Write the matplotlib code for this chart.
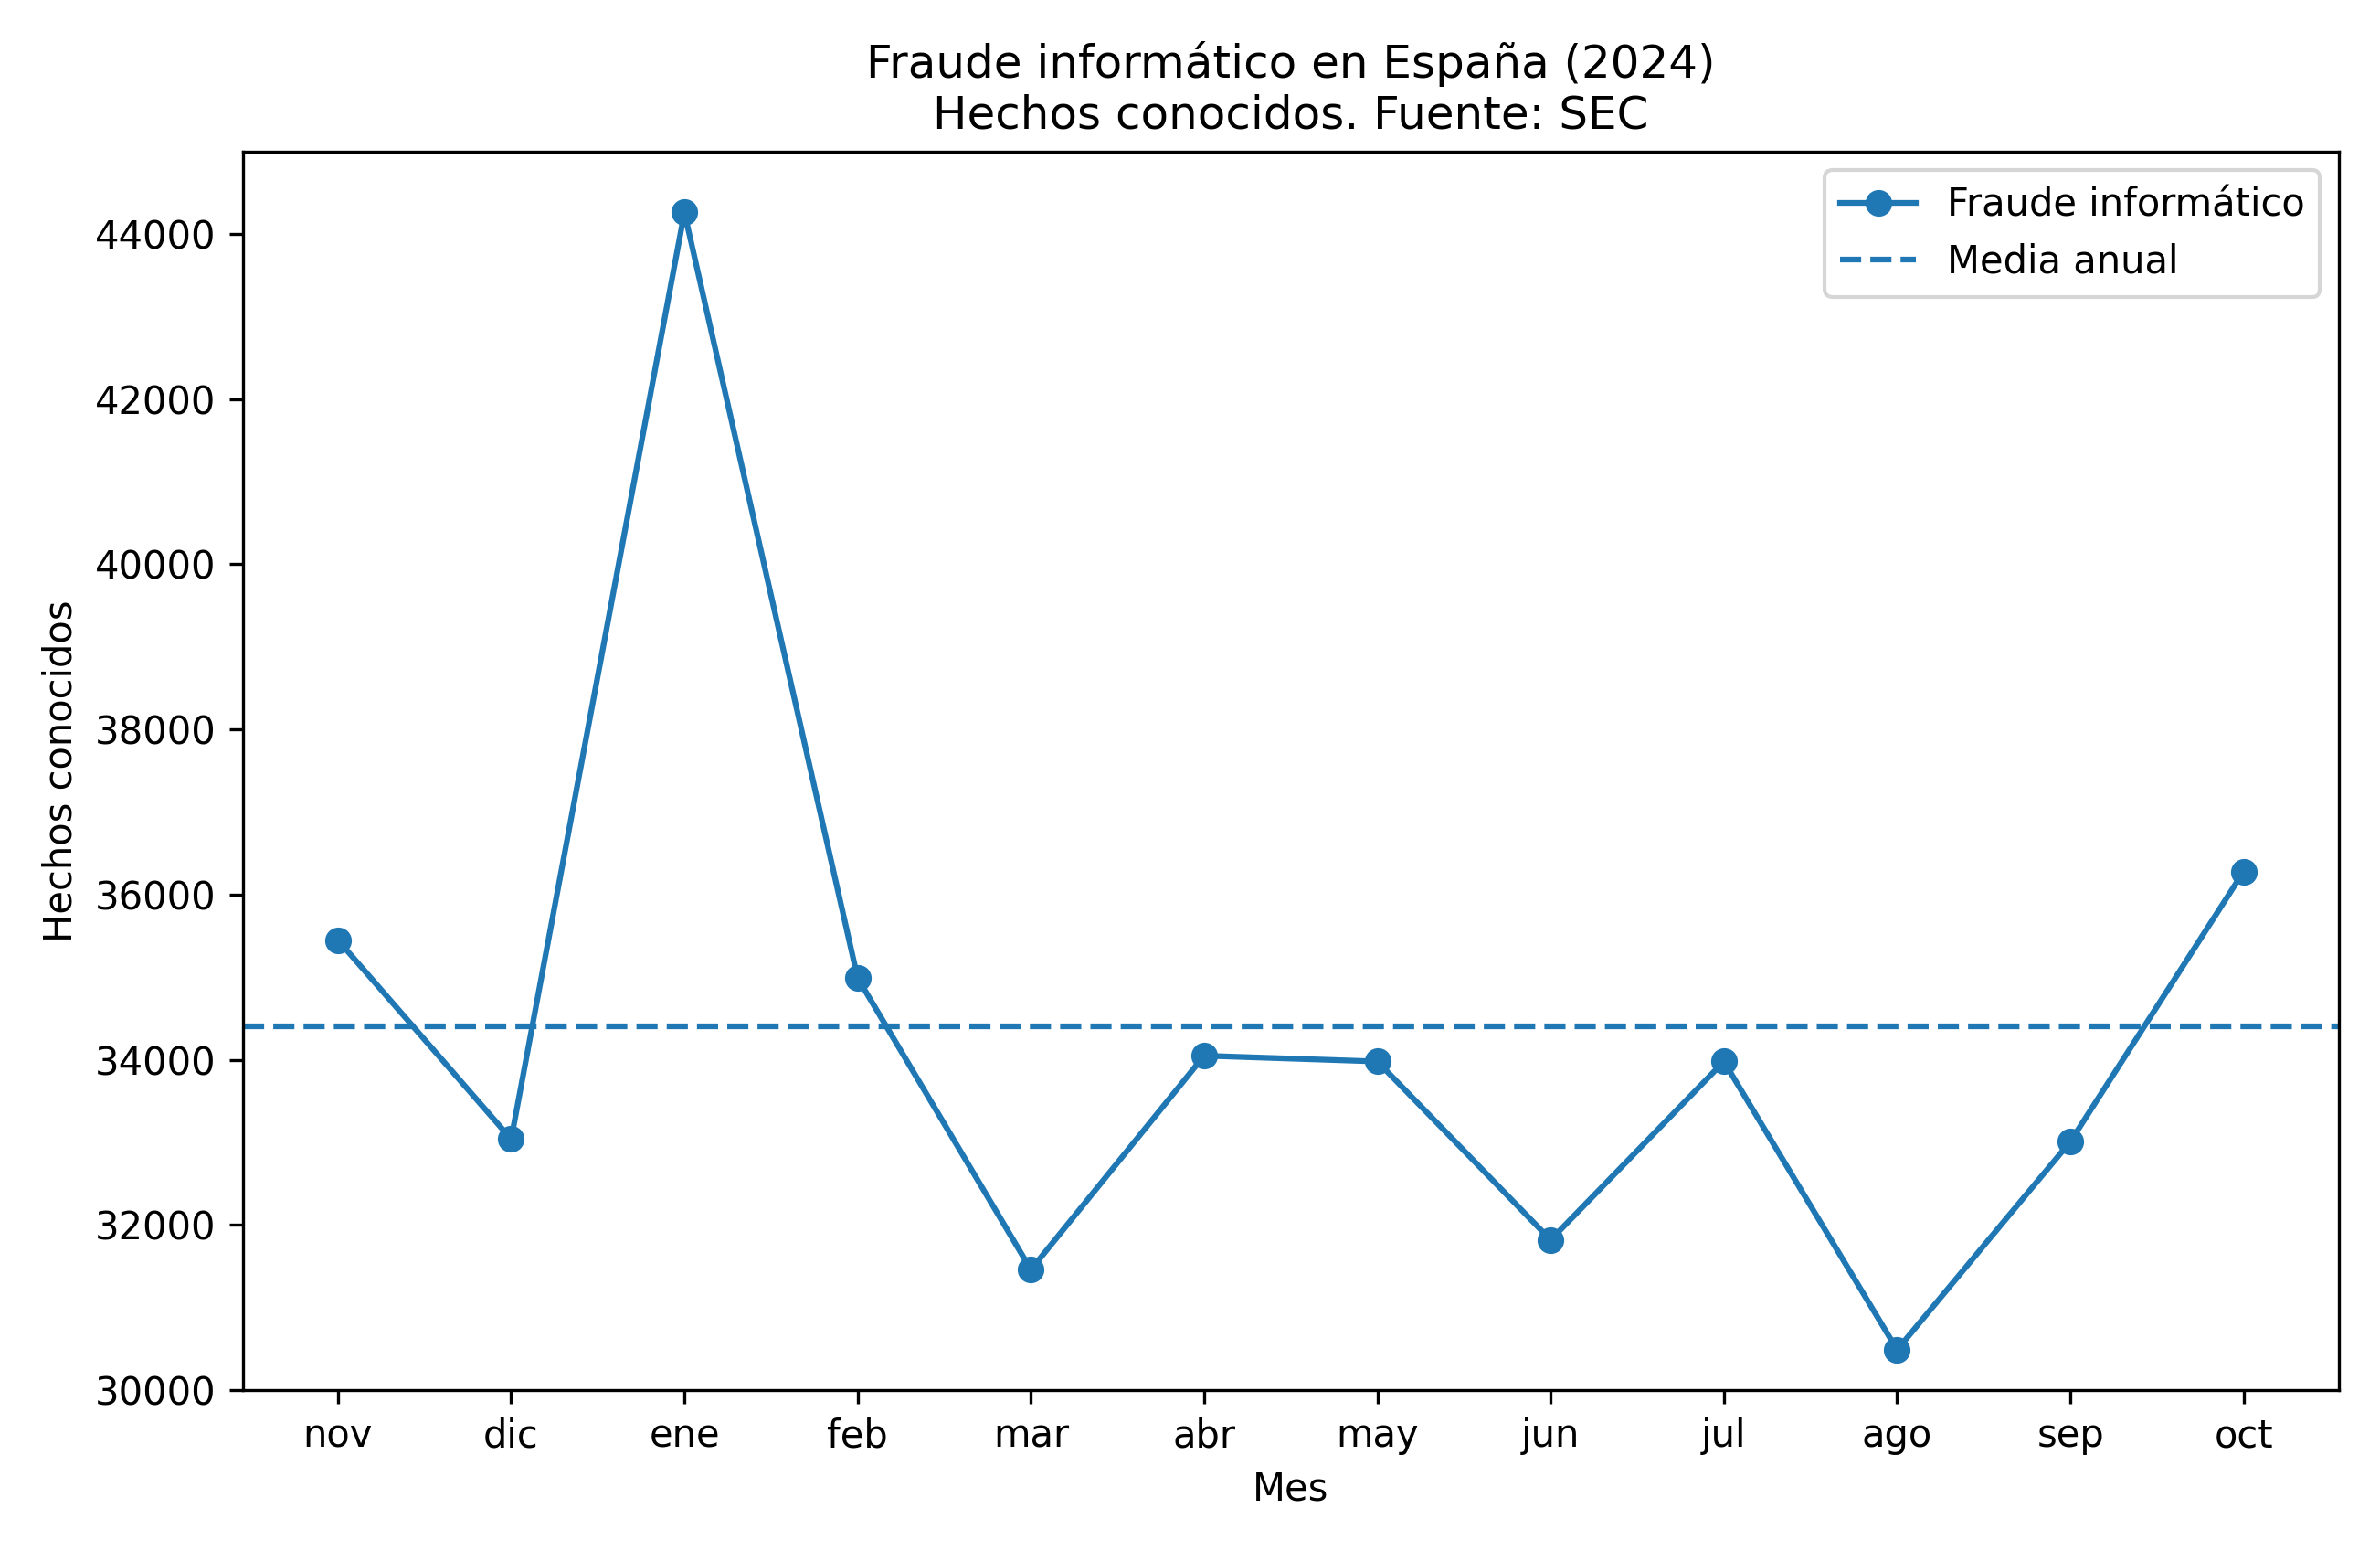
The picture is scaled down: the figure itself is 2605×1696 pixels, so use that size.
import matplotlib
matplotlib.use("Agg")
import matplotlib.pyplot as plt
import numpy as np

meses = ["nov","dic","ene","feb","mar","abr","may","jun","jul","ago","sep","oct"]
valores = [35450,33040,44260,34990,31460,34050,33980,31820,33980,30490,33010,36280]

fig, ax = plt.subplots(figsize=(2605/300, 1696/300), dpi=300)
ax.plot(meses, valores, marker="o", color="#1f77b4", label="Fraude informático")
ax.axhline(np.mean(valores), linestyle="--", color="#1f77b4", label="Media anual")
ax.set_ylim(30000, 45000)
ax.set_title("Fraude informático en España (2024)\nHechos conocidos. Fuente: SEC")
ax.set_xlabel("Mes")
ax.set_ylabel("Hechos conocidos")
ax.legend(loc="upper right")
fig.tight_layout()
fig.savefig("out.png", dpi=300)
